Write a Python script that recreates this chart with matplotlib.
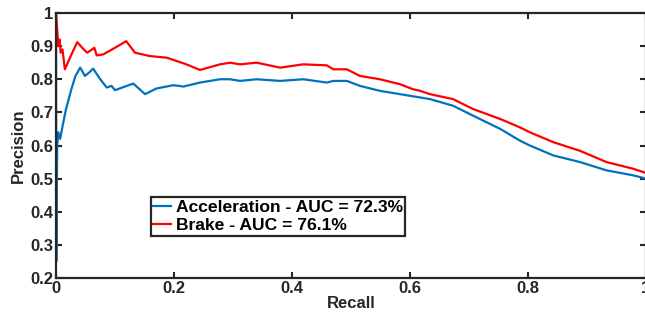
import matplotlib
matplotlib.use("Agg")
import matplotlib.pyplot as plt

plt.rcParams['font.family'] = ['Liberation Sans', 'DejaVu Sans']
plt.rcParams['font.weight'] = 'bold'

recall_acc = [0, 0.0005, 0.002, 0.004, 0.007, 0.0113, 0.017, 0.026, 0.033, 0.041,
              0.049, 0.056, 0.063, 0.075, 0.086, 0.094, 0.10, 0.117, 0.131, 0.151,
              0.17, 0.199, 0.216, 0.244, 0.278, 0.295, 0.312, 0.34, 0.38, 0.419,
              0.459, 0.47, 0.493, 0.515, 0.549, 0.583, 0.617, 0.634, 0.673, 0.707,
              0.753, 0.786, 0.803, 0.843, 0.888, 0.933, 0.978, 1.0]
prec_acc = [1.0, 0.25, 0.60, 0.64, 0.62, 0.66, 0.71, 0.77, 0.81, 0.835,
            0.81, 0.82, 0.832, 0.80, 0.775, 0.78, 0.767, 0.778, 0.787, 0.755,
            0.772, 0.782, 0.778, 0.79, 0.80, 0.80, 0.795, 0.80, 0.795, 0.80,
            0.79, 0.795, 0.795, 0.78, 0.765, 0.755, 0.745, 0.74, 0.72, 0.69,
            0.65, 0.615, 0.60, 0.57, 0.55, 0.525, 0.51, 0.50]

recall_brk = [0, 0.002, 0.004, 0.006, 0.008, 0.011, 0.015, 0.025, 0.036, 0.046,
              0.053, 0.065, 0.069, 0.08, 0.10, 0.119, 0.134, 0.159, 0.188, 0.221,
              0.244, 0.278, 0.295, 0.312, 0.34, 0.38, 0.419, 0.459, 0.47, 0.493,
              0.515, 0.549, 0.583, 0.605, 0.617, 0.634, 0.673, 0.707, 0.753, 0.786,
              0.803, 0.843, 0.888, 0.933, 0.978, 1.0]
prec_brk = [1.0, 0.95, 0.90, 0.92, 0.88, 0.89, 0.83, 0.87, 0.912, 0.892,
            0.88, 0.895, 0.872, 0.875, 0.895, 0.915, 0.88, 0.87, 0.865, 0.845,
            0.828, 0.845, 0.85, 0.845, 0.85, 0.835, 0.845, 0.842, 0.83, 0.83,
            0.81, 0.80, 0.785, 0.77, 0.765, 0.755, 0.74, 0.71, 0.68, 0.655,
            0.64, 0.61, 0.584, 0.55, 0.53, 0.517]

labels = ['Acceleration - AUC = 72.3%', 'Brake - AUC = 76.1%']
xticks = [0, 0.2, 0.4, 0.6, 0.8, 1.0]
xticklabels = ['0', '0.2', '0.4', '0.6', '0.8', '1']
yticks = [0.2, 0.3, 0.4, 0.5, 0.6, 0.7, 0.8, 0.9, 1.0]
yticklabels = ['0.2', '0.3', '0.4', '0.5', '0.6', '0.7', '0.8', '0.9', '1']

axcol = '#262626'
fig = plt.figure(figsize=(6.45, 3.2), dpi=100)
ax = fig.add_axes([56/645, 42/320, 590/645, 265/320])
ax.plot(recall_acc, prec_acc, color='#0072BD', lw=1.6, label=labels[0])
ax.plot(recall_brk, prec_brk, color='#FF0000', lw=1.6, label=labels[1])
ax.set_xlim(0, 1)
ax.set_ylim(0.2, 1)
ax.set_xticks(xticks)
ax.set_xticklabels(xticklabels)
ax.set_yticks(yticks)
ax.set_yticklabels(yticklabels)
ax.tick_params(direction='in', length=4, width=1.5, colors=axcol, labelsize=12,
               top=True, right=True, pad=2)
for s in ax.spines.values():
    s.set_linewidth(1.6)
    s.set_color(axcol)
ax.set_xlabel('Recall', fontsize=12, fontweight='bold', color=axcol, labelpad=0)
ax.set_ylabel('Precision', fontsize=12, fontweight='bold', color=axcol, labelpad=3)
leg = ax.legend(loc='lower left', bbox_to_anchor=(0.161, 0.160), fontsize=12.6,
                handlelength=1.0, handletextpad=0.3, borderpad=0.12,
                labelspacing=0.2, fancybox=False, framealpha=1,
                borderaxespad=0)
leg.get_frame().set_edgecolor(axcol)
leg.get_frame().set_linewidth(1.6)
for t in leg.get_texts():
    t.set_color('black')
fig.savefig('out.png', dpi=100)
